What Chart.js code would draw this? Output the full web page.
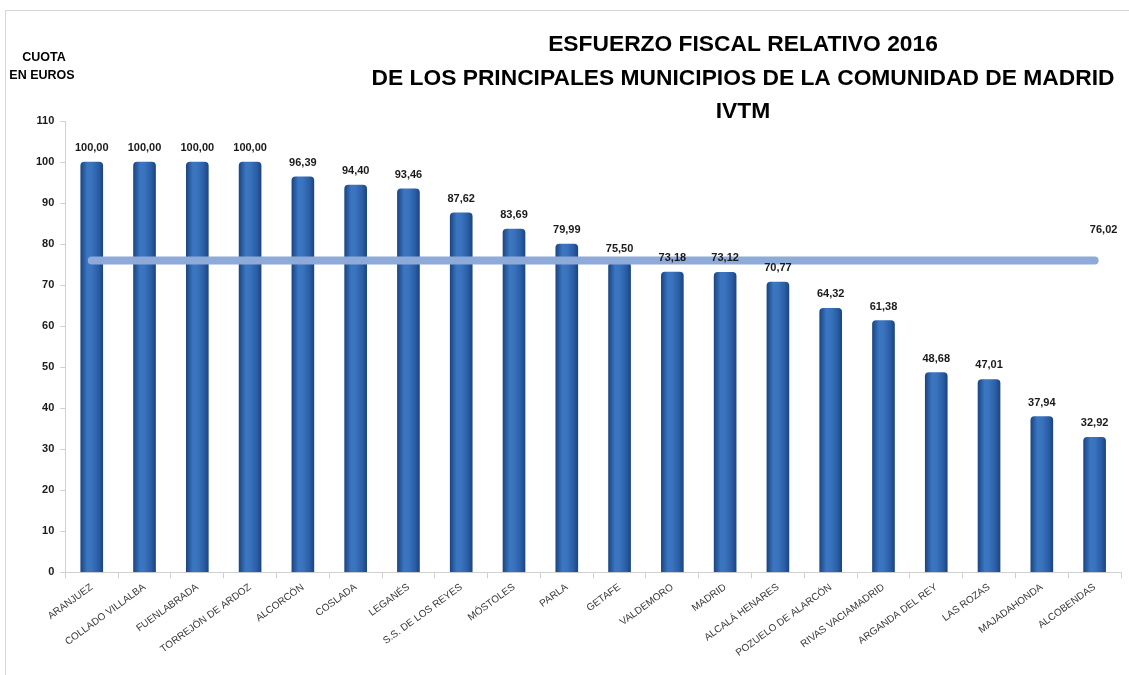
<!DOCTYPE html>
<html>
<head>
<meta charset="utf-8">
<script src="https://cdn.jsdelivr.net/npm/chart.js@4"></script>
<style>
  html, body { margin: 0; padding: 0; background: #ffffff; }
  #wrap { width: 1129px; height: 675px; position: relative; }
</style>
</head>
<body>
<div id="wrap"><canvas id="c" width="1129" height="675"></canvas></div>
<script>
const categories = ["ARANJUEZ","COLLADO VILLALBA","FUENLABRADA","TORREJÓN DE ARDOZ","ALCORCÓN","COSLADA","LEGANÉS","S.S. DE LOS REYES","MÓSTOLES","PARLA","GETAFE","VALDEMORO","MADRID","ALCALÁ HENARES","POZUELO DE ALARCÓN","RIVAS VACIAMADRID","ARGANDA DEL REY","LAS ROZAS","MAJADAHONDA","ALCOBENDAS"];
const cuota = [100.00,100.00,100.00,100.00,96.39,94.40,93.46,87.62,83.69,79.99,75.50,73.18,73.12,70.77,64.32,61.38,48.68,47.01,37.94,32.92];
const media = 76.02;
const mediaSeries = categories.map(() => media);
const titleLines = ["ESFUERZO FISCAL RELATIVO 2016","DE LOS PRINCIPALES MUNICIPIOS DE LA COMUNIDAD DE MADRID","IVTM"];
const axisTitleLines = ["CUOTA","EN EUROS"];

const fmt = v => v.toFixed(2).replace('.', ',');

function barGradient(context) {
  const chart = context.chart;
  const area = chart.chartArea;
  if (!area || context.type !== 'data') return '#2f67b0';
  const el = context.element;
  let cx = el && isFinite(el.x) ? el.x : chart.scales.x.getPixelForValue(context.dataIndex);
  const hw = 11;
  const g = chart.ctx.createLinearGradient(cx - hw, 0, cx + hw, 0);
  g.addColorStop(0, '#1b4682');
  g.addColorStop(0.3, '#3b76c2');
  g.addColorStop(0.5, '#3a73bd');
  g.addColorStop(0.8, '#2a5ea6');
  g.addColorStop(1, '#1b4682');
  return g;
}

const decorPlugin = {
  id: 'decor',
  beforeDraw(chart) {
    const ctx = chart.ctx;
    ctx.save();
    ctx.fillStyle = '#ffffff';
    ctx.fillRect(0, 0, chart.width, chart.height);
    ctx.strokeStyle = '#d6d6d6';
    ctx.lineWidth = 1;
    ctx.strokeRect(5.5, 10.5, 1200, 700);
    ctx.restore();
  },
  afterDraw(chart) {
    const ctx = chart.ctx;
    ctx.save();
    ctx.fillStyle = '#000000';
    ctx.textAlign = 'center';
    ctx.textBaseline = 'middle';
    ctx.font = 'bold 22.8px "Liberation Sans", Arial, sans-serif';
    const ys = [45, 79, 112];
    titleLines.forEach((t, i) => ctx.fillText(t, 743, ys[i]));
    ctx.font = 'bold 12.5px "Liberation Sans", Arial, sans-serif';
    ctx.fillText(axisTitleLines[0], 44, 58);
    ctx.fillText(axisTitleLines[1], 42, 76);
    ctx.restore();
  }
};

const valueLabels = {
  id: 'valueLabels',
  afterDatasetsDraw(chart) {
    const ctx = chart.ctx;
    ctx.save();
    ctx.fillStyle = '#1a1a1a';
    ctx.font = 'bold 11px "Liberation Sans", Arial, sans-serif';
    ctx.textAlign = 'center';
    ctx.textBaseline = 'middle';
    const barMeta = chart.getDatasetMeta(0);
    barMeta.data.forEach((el, i) => {
      ctx.fillText(fmt(cuota[i]), el.x, el.y - 14);
    });
    const lineMeta = chart.getDatasetMeta(1);
    const last = lineMeta.data[lineMeta.data.length - 1];
    ctx.fillText(fmt(media), last.x + 9, last.y - 30);
    ctx.restore();
  }
};

new Chart(document.getElementById('c'), {
  data: {
    labels: categories,
    datasets: [
      {
        type: 'bar',
        label: 'Cuota',
        data: cuota,
        backgroundColor: barGradient,
        borderRadius: { topLeft: 4, topRight: 4, bottomLeft: 0, bottomRight: 0 },
        borderSkipped: 'bottom',
        barThickness: 22,
        order: 1
      },
      {
        type: 'line',
        label: 'Media',
        data: mediaSeries,
        borderColor: '#8eaad8',
        borderWidth: 8,
        borderCapStyle: 'round',
        pointRadius: 0,
        fill: false,
        order: 0
      }
    ]
  },
  options: {
    responsive: false,
    animation: false,
    devicePixelRatio: 1,
    layout: { padding: { top: 121, left: 30, right: 8, bottom: 13 } },
    plugins: {
      legend: { display: false },
      tooltip: { enabled: false },
      title: { display: false }
    },
    scales: {
      x: {
        offset: true,
        grid: { display: true, drawOnChartArea: false, offset: true, tickLength: 6, color: '#d0d0d0' },
        border: { color: '#d0d0d0' },
        ticks: {
          minRotation: 36,
          maxRotation: 36,
          autoSkip: false,
          color: '#3a3a3a',
          font: { family: '"Liberation Sans", Arial, sans-serif', size: 10 }
        }
      },
      y: {
        min: 0,
        max: 110,
        ticks: {
          stepSize: 10,
          color: '#1a1a1a',
          padding: 6,
          font: { family: '"Liberation Sans", Arial, sans-serif', size: 11, weight: 'bold' }
        },
        grid: { display: true, drawOnChartArea: false, tickLength: 5, color: '#d0d0d0' },
        border: { color: '#d0d0d0' }
      }
    }
  },
  plugins: [decorPlugin, valueLabels]
});
</script>
</body>
</html>
